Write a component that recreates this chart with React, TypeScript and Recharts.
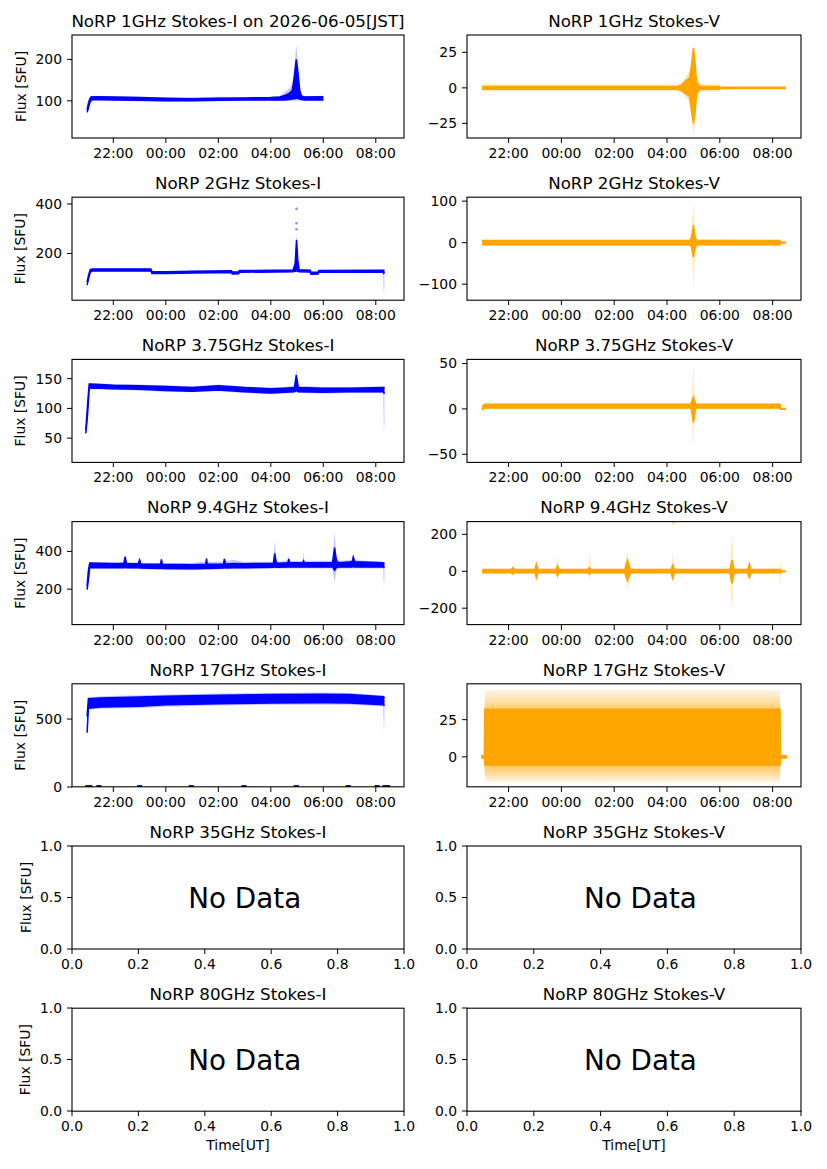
import { Area, ComposedChart, Scatter, XAxis, YAxis } from 'recharts';

// time is hours from 00:00 UT (21:00 of the previous day = -3)
// each row: [time, dense lo, dense hi, sparse lo, sparse hi]
type Row = [number, number, number, number, number];

const timeTicks = [-2, 0, 2, 4, 6, 8];
const timeLabels = ['22:00', '00:00', '02:00', '04:00', '06:00', '08:00'];
const unitTicksX = [0, 0.2, 0.4, 0.6, 0.8, 1.0];
const unitTicksY = [0, 0.5, 1.0];

const freqs = ['1GHz', '2GHz', '3.75GHz', '9.4GHz', '17GHz', '35GHz', '80GHz'];

const i1GHz: Row[] = [
  [-3.0, 72, 78, 70, 80], [-2.95, 82, 94, 80, 96], [-2.9, 95, 104, 93, 106],
  [-2.85, 101, 109, 99, 111], [-2.75, 103, 110, 101, 112], [-2.0, 102, 109, 100, 111],
  [-1.0, 101, 108, 99, 110], [0.0, 100, 106, 98, 108], [1.0, 100, 105, 98, 108],
  [2.0, 101, 106, 99, 110], [3.0, 102, 107, 100, 109], [4.0, 102, 108, 100, 110],
  [4.35, 102, 109, 100, 112], [4.5, 102, 112, 100, 120], [4.7, 103, 118, 100, 130],
  [4.82, 104, 125, 100, 140], [4.9, 105, 160, 100, 185], [4.97, 106, 200, 100, 235],
  [5.03, 106, 170, 100, 200], [5.1, 104, 125, 100, 140], [5.17, 103, 111, 100, 116],
  [5.3, 102, 109, 100, 111], [6.0, 102, 110, 100, 112],
];

const v1GHz: Row[] = [
  [-3.0, -1, 1, -2.5, 2.5], [4.4, -1, 1, -2.5, 2.5], [4.55, -2, 2, -4, 4],
  [4.7, -4, 5, -7, 8], [4.85, -6, 7, -10, 12], [4.92, -15, 15, -20, 20],
  [5.0, -25, 28, -35, 31], [5.06, -18, 18, -25, 25], [5.12, -4, 4, -8, 8],
  [5.25, -1, 1, -3, 3], [6.0, -1, 1, -2.5, 2.5], [6.02, -0.5, 0.5, -1, 1],
  [8.5, -0.5, 0.5, -1, 1],
];

const i2GHz: Row[] = [
  [-3.0, 72, 84, 70, 86], [-2.95, 95, 110, 92, 112], [-2.88, 125, 135, 122, 138],
  [-2.8, 129, 137, 127, 139], [-0.57, 129, 137, 127, 139], [-0.53, 119, 127, 117, 129],
  [0.0, 119, 126, 117, 128], [1.0, 121, 128, 119, 130], [2.5, 123, 130, 121, 132],
  [2.53, 117, 125, 115, 127], [2.78, 118, 125, 116, 127], [2.8, 124, 131, 122, 133],
  [4.85, 126, 133, 124, 135], [4.93, 128, 160, 126, 180], [4.98, 130, 255, 128, 280],
  [5.03, 128, 170, 126, 190], [5.08, 126, 134, 124, 136], [5.5, 125, 132, 123, 134],
  [5.53, 116, 124, 114, 126], [5.8, 117, 124, 115, 126], [5.83, 124, 131, 122, 133],
  [8.28, 124, 132, 122, 134], [8.3, 120, 132, 40, 134], [8.33, 125, 131, 60, 133],
];
const i2GHzOutliers = [
  { t: 4.98, v: 380 }, { t: 4.98, v: 322 }, { t: 4.98, v: 298 },
];

const v2GHz: Row[] = [
  [-3.0, -5, 5, -7, 7], [4.85, -5, 5, -7, 7], [4.93, -10, 12, -20, 30],
  [5.0, -35, 42, -110, 100], [5.07, -12, 12, -25, 25], [5.12, -5, 5, -8, 8],
  [8.28, -5, 5, -7, 7], [8.3, -1, 1, -2, 2], [8.5, -1, 1, -2, 2],
];

const i375GHz: Row[] = [
  [-3.05, 58, 64, 56, 66], [-3.0, 80, 95, 78, 97], [-2.95, 110, 125, 108, 127],
  [-2.92, 134, 141, 132, 143], [-2.5, 134, 140, 132, 142], [-2.0, 133, 139, 131, 141],
  [-1.0, 132, 138, 130, 140], [0.0, 130, 137, 128, 139], [1.0, 129, 135, 127, 137],
  [2.0, 131, 138, 129, 140], [3.0, 128, 135, 126, 137], [4.0, 126, 133, 124, 135],
  [4.5, 127, 134, 125, 136], [4.9, 128, 135, 126, 138], [4.97, 130, 156, 128, 166],
  [5.05, 128, 135, 126, 138], [6.0, 127, 134, 125, 136], [7.0, 128, 134, 126, 136],
  [8.28, 128, 135, 126, 137], [8.31, 126, 135, 58, 137], [8.33, 128, 134, 80, 136],
];

const v375GHz: Row[] = [
  [-3.0, -1, 3, -2, 4], [-2.9, 1, 5, 0, 6], [4.9, 1, 5, 0, 6],
  [4.95, -5, 10, -15, 20], [5.0, -15, 13, -40, 48], [5.05, -5, 8, -12, 15],
  [5.1, 1, 5, 0, 6], [8.28, 1, 5, 0, 6], [8.3, -0.5, 0.5, -1, 1],
  [8.5, -0.5, 0.5, -1, 1],
];

const i94GHz: Row[] = [
  [-3.0, 198, 215, 195, 218], [-2.95, 250, 300, 245, 305], [-2.9, 315, 338, 310, 342],
  [-2.0, 314, 336, 308, 340], [-1.6, 314, 336, 308, 345], [-1.55, 316, 372, 310, 380],
  [-1.5, 314, 336, 308, 345], [-1.05, 313, 335, 305, 340], [-1.0, 313, 355, 305, 365],
  [-0.95, 312, 334, 305, 340], [-0.2, 310, 332, 303, 338], [-0.17, 312, 358, 305, 365],
  [-0.13, 310, 332, 303, 338], [1.0, 308, 330, 300, 340], [1.52, 310, 332, 303, 345],
  [1.55, 312, 362, 305, 370], [1.58, 310, 332, 303, 345], [2.2, 312, 334, 305, 345],
  [2.23, 314, 360, 305, 368], [2.28, 312, 334, 305, 350], [2.6, 314, 336, 305, 355],
  [3.0, 314, 335, 305, 345], [4.1, 316, 338, 308, 345], [4.15, 318, 390, 310, 455],
  [4.2, 316, 345, 310, 370], [4.25, 316, 338, 308, 345], [4.65, 318, 340, 310, 350],
  [4.68, 318, 360, 310, 380], [4.72, 318, 340, 310, 350], [5.22, 318, 340, 310, 350],
  [5.25, 318, 350, 310, 400], [5.28, 318, 340, 310, 350], [6.35, 318, 340, 310, 350],
  [6.43, 300, 420, 235, 500], [6.5, 316, 350, 300, 370], [6.6, 318, 340, 310, 350],
  [7.1, 318, 345, 310, 355], [7.14, 320, 370, 310, 385], [7.2, 318, 345, 310, 355],
  [8.28, 318, 340, 310, 345], [8.31, 315, 338, 210, 342], [8.33, 318, 336, 250, 340],
];

const v94GHz: Row[] = [
  [-3.0, -8, 10, -12, 14], [-1.9, -8, 10, -12, 14], [-1.84, -15, 20, -30, 30],
  [-1.78, -8, 10, -12, 14], [-1.0, -8, 10, -12, 14], [-0.95, -35, 40, -60, 60],
  [-0.88, -8, 10, -12, 14], [-0.2, -8, 10, -12, 14], [-0.15, -25, 30, -40, 85],
  [-0.1, -8, 10, -12, 14], [1.0, -8, 10, -12, 14], [1.06, -15, 20, -50, 115],
  [1.12, -8, 10, -12, 14], [2.4, -8, 10, -12, 14], [2.5, -50, 60, -100, 110],
  [2.62, -8, 10, -12, 14], [4.15, -8, 10, -12, 14], [4.22, -40, 35, -60, 100],
  [4.28, -8, 10, -12, 14], [6.38, -8, 10, -12, 14], [6.46, -65, 60, -230, 210],
  [6.54, -8, 10, -12, 14], [7.05, -8, 10, -12, 14], [7.12, -35, 40, -50, 55],
  [7.18, -8, 10, -12, 14], [8.25, -8, 10, -12, 14], [8.3, -8, 10, -85, 75],
  [8.32, -2, 2, -3, 3], [8.5, -2, 2, -3, 3],
];
const v94GHzOutliers = [{ t: 4.25, v: 260 }];

const i17GHz: Row[] = [
  [-3.0, 400, 520, 395, 540], [-2.95, 580, 650, 570, 660], [-2.5, 588, 655, 575, 668],
  [-1.0, 595, 662, 582, 675], [0.0, 605, 668, 590, 680], [2.0, 612, 675, 600, 688],
  [4.0, 618, 680, 605, 692], [6.0, 620, 682, 605, 695], [7.0, 618, 680, 605, 692],
  [8.28, 605, 665, 595, 675], [8.31, 600, 662, 410, 670], [8.33, 605, 655, 500, 665],
];
const i17GHzZeroTimes = [-2.97, -2.9, -2.55, -1.0, 0.97, 2.98, 4.97, 6.95, 8.05, 8.35, 8.45];

const v17GHz: Row[] = [
  [-3.04, -0.8, 0.8, -1, 1], [-2.92, -0.8, 0.8, -1, 1], [-2.9, -5.5, 32, -17, 45],
  [8.28, -5.5, 32, -17, 45], [8.3, -0.8, 0.8, -1, 1], [8.54, -0.8, 0.8, -1, 1],
];

const BLUE = '#0000ff';
const ORANGE = '#ffa500';
const FONT = 'DejaVu Sans';

const COLS = [
  { left: 72, width: 332 },
  { left: 467, width: 334 },
];
const ROW_TOP = 35;
const ROW_STEP = 162.2;
const AX_H = 103;
const YW = 60;
const PAD = 12;
const XH = 30;
const TIME_DOMAIN: [number, number] = [-3.575, 9.075];

const tickStyle = { fill: '#000', fontSize: 13.9, fontFamily: FONT };
const fmtNum = (v: number) => (v < 0 ? '\u2212' + Math.abs(v) : String(v));
const fmtTime = (v: number) => timeLabels[timeTicks.indexOf(v)] ?? '';

type PanelProps = {
  col: number;
  row: number;
  rows: Row[];
  color: string;
  domain: [number, number];
  ticks: number[];
  outliers?: { t: number; v: number }[];
  zeroMarks?: number[];
  hazeFill?: string;
};

function DataPanel({ col, row, rows, color, domain, ticks, outliers, zeroMarks, hazeFill }: PanelProps) {
  const ax = COLS[col];
  const top = ROW_TOP + row * ROW_STEP;
  const data = rows.map(([t, a, b, c, d]) => ({ t, core: [a, b], haze: [c, d] }));
  const zeros = zeroMarks ? zeroMarks.map((t) => ({ t, v: 0 })) : null;
  return (
    <div style={{ position: 'absolute', left: ax.left - YW, top: top - PAD }}>
      <ComposedChart
        width={YW + ax.width + PAD}
        height={PAD + AX_H + XH}
        data={data}
        margin={{ top: PAD, right: PAD, bottom: 0, left: 0 }}
      >
        <XAxis
          type="number"
          dataKey="t"
          domain={TIME_DOMAIN}
          ticks={timeTicks}
          interval={0}
          tickFormatter={fmtTime}
          allowDataOverflow
          axisLine={false}
          stroke="#000"
          tickSize={5}
          tickMargin={5}
          tick={tickStyle}
          height={XH}
        />
        <YAxis
          type="number"
          dataKey="v"
          domain={domain}
          ticks={ticks}
          interval={0}
          tickFormatter={fmtNum}
          allowDataOverflow
          axisLine={false}
          stroke="#000"
          tickSize={5}
          tickMargin={5}
          tick={tickStyle}
          width={YW}
        />
        <Area
          type="linear"
          dataKey="haze"
          stroke="none"
          fill={hazeFill ?? color}
          fillOpacity={hazeFill ? 1 : 0.22}
          isAnimationActive={false}
        />
        <Area type="linear" dataKey="core" stroke={color} strokeWidth={1.5} fill={color} fillOpacity={1} isAnimationActive={false} />
        {outliers && (
          <Scatter
            data={outliers}
            fill={color}
            isAnimationActive={false}
            shape={(p: any) => <circle cx={p.cx} cy={p.cy} r={1.3} fill={color} fillOpacity={0.45} />}
          />
        )}
        {zeros && (
          <Scatter
            data={zeros}
            fill={color}
            isAnimationActive={false}
            shape={(p: any) => <rect x={p.cx - 2.5} y={p.cy - 2} width={5} height={4} fill={color} />}
          />
        )}
      </ComposedChart>
    </div>
  );
}

function EmptyPanel({ col, row }: { col: number; row: number }) {
  const ax = COLS[col];
  const top = ROW_TOP + row * ROW_STEP;
  return (
    <div style={{ position: 'absolute', left: ax.left - YW, top: top - PAD }}>
      <ComposedChart
        width={YW + ax.width + PAD + 8}
        height={PAD + AX_H + XH}
        data={[]}
        margin={{ top: PAD, right: PAD + 8, bottom: 0, left: 0 }}
      >
        <XAxis
          type="number"
          dataKey="t"
          domain={[0, 1]}
          ticks={unitTicksX}
          interval={0}
          tickFormatter={(v: number) => v.toFixed(1)}
          allowDataOverflow
          axisLine={false}
          stroke="#000"
          tickSize={5}
          tickMargin={5}
          tick={tickStyle}
          height={XH}
        />
        <YAxis
          type="number"
          dataKey="v"
          domain={[0, 1]}
          ticks={unitTicksY}
          interval={0}
          tickFormatter={(v: number) => v.toFixed(1)}
          allowDataOverflow
          axisLine={false}
          stroke="#000"
          tickSize={5}
          tickMargin={5}
          tick={tickStyle}
          width={YW}
        />
      </ComposedChart>
    </div>
  );
}

export default function App() {
  const tops = freqs.map((_, i) => ROW_TOP + i * ROW_STEP);
  return (
    <div style={{ position: 'absolute', left: 0, top: 0, width: 827, height: 1169, background: '#fff' }}>
      <svg width={0} height={0} style={{ position: 'absolute' }}>
        <defs>
          <linearGradient id="v17haze" x1="0" y1="0" x2="0" y2="1">
            <stop offset="0" stopColor={ORANGE} stopOpacity={0.1} />
            <stop offset="0.15" stopColor={ORANGE} stopOpacity={0.4} />
            <stop offset="0.21" stopColor={ORANGE} stopOpacity={0.6} />
            <stop offset="0.83" stopColor={ORANGE} stopOpacity={0.6} />
            <stop offset="0.9" stopColor={ORANGE} stopOpacity={0.4} />
            <stop offset="1" stopColor={ORANGE} stopOpacity={0.1} />
          </linearGradient>
        </defs>
      </svg>
      <DataPanel col={0} row={0} rows={i1GHz} color={BLUE} domain={[10, 259]} ticks={[100, 200]} />
      <DataPanel col={1} row={0} rows={v1GHz} color={ORANGE} domain={[-35.3, 37.2]} ticks={[-25, 0, 25]} />
      <DataPanel col={0} row={1} rows={i2GHz} color={BLUE} domain={[12, 428]} ticks={[200, 400]} outliers={i2GHzOutliers} />
      <DataPanel col={1} row={1} rows={v2GHz} color={ORANGE} domain={[-138, 110]} ticks={[-100, 0, 100]} />
      <DataPanel col={0} row={2} rows={i375GHz} color={BLUE} domain={[10, 183]} ticks={[50, 100, 150]} />
      <DataPanel col={1} row={2} rows={v375GHz} color={ORANGE} domain={[-58.5, 55]} ticks={[-50, 0, 50]} />
      <DataPanel col={0} row={3} rows={i94GHz} color={BLUE} domain={[10, 556]} ticks={[200, 400]} />
      <DataPanel col={1} row={3} rows={v94GHz} color={ORANGE} domain={[-291, 267]} ticks={[-200, 0, 200]} outliers={v94GHzOutliers} />
      <DataPanel col={0} row={4} rows={i17GHz} color={BLUE} domain={[0, 758]} ticks={[0, 500]} zeroMarks={i17GHzZeroTimes} />
      <DataPanel col={1} row={4} rows={v17GHz} color={ORANGE} domain={[-20.3, 49]} ticks={[0, 25]} hazeFill="url(#v17haze)" />
      <EmptyPanel col={0} row={5} />
      <EmptyPanel col={1} row={5} />
      <EmptyPanel col={0} row={6} />
      <EmptyPanel col={1} row={6} />

      <svg
        width={827}
        height={1169}
        style={{ position: 'absolute', left: 0, top: 0, pointerEvents: 'none' }}
        fontFamily={FONT}
      >
        {tops.map((top, r) =>
          COLS.map((ax, c) => {
            const cx = ax.left + ax.width / 2;
            const title =
              `NoRP ${freqs[r]} Stokes-${c === 0 ? 'I' : 'V'}` + (r === 0 && c === 0 ? ' on 2026-06-05[JST]' : '');
            const lx = r >= 5 ? 30.5 : 25.5;
            return (
              <g key={`${r}-${c}`}>
                <rect x={ax.left} y={top} width={ax.width} height={AX_H} fill="none" stroke="#000" strokeWidth={1.1} />
                <text x={cx} y={top - 8.3} textAnchor="middle" fontSize={16.7} fill="#000">
                  {title}
                </text>
                {c === 0 && (
                  <text
                    x={lx}
                    y={top + AX_H / 2}
                    textAnchor="middle"
                    fontSize={13.9}
                    fill="#000"
                    transform={`rotate(-90 ${lx} ${top + AX_H / 2})`}
                  >
                    Flux [SFU]
                  </text>
                )}
                {r >= 5 && (
                  <text x={ax.left + 0.35 * ax.width} y={top + AX_H / 2 + 10} fontSize={27.8} fill="#000">
                    No Data
                  </text>
                )}
                {r === 6 && (
                  <text x={cx} y={top + AX_H + 39} textAnchor="middle" fontSize={13.9} fill="#000">
                    Time[UT]
                  </text>
                )}
              </g>
            );
          })
        )}
      </svg>
    </div>
  );
}
